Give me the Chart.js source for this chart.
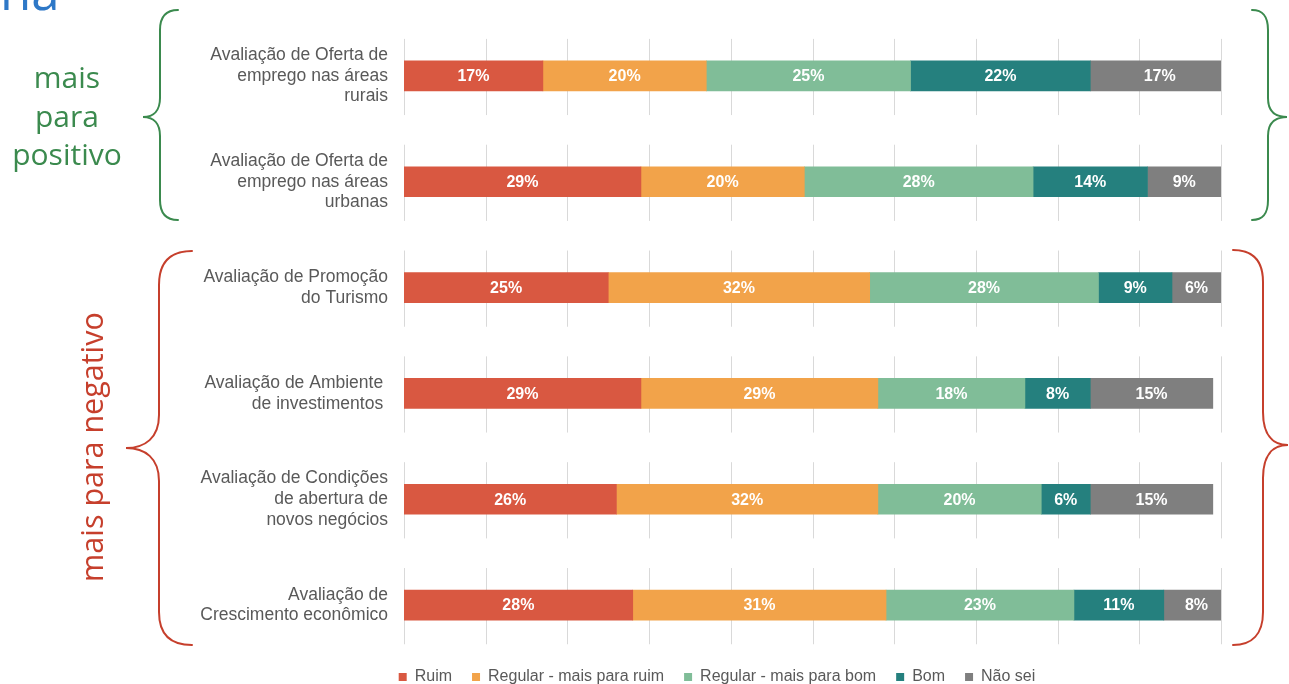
<!DOCTYPE html>
<html lang="pt-BR">
<head>
<meta charset="utf-8">
<title>Avaliação</title>
<script src="https://cdn.jsdelivr.net/npm/chart.js@4/dist/chart.umd.min.js"></script>
<style>
  html, body { margin: 0; padding: 0; background: #ffffff; }
  #wrap { position: relative; width: 1289px; height: 684px; overflow: hidden; background: #ffffff; }
  #chart { position: absolute; left: 0; top: 0; }
  #braces { position: absolute; left: 0; top: 0; pointer-events: none; }
  .side { position: absolute; font-family: "Open Sans", sans-serif; text-align: center; white-space: nowrap; }
  #heading { position: absolute; left: 0; top: -35px; font-family: "Open Sans", sans-serif; font-size: 51px; line-height: 50px; color: #2E78C7; }
  #pos { left: 0; top: 58px; width: 134px; font-size: 30px; line-height: 38.5px; color: #3B8A4E; }
  #neg { left: 91px; top: 447px; font-size: 30.5px; line-height: 32px; color: #C63F2C; transform: translate(-50%, -50%) rotate(-90deg); }
</style>
</head>
<body>
<div id="wrap">
  <canvas id="chart" width="1289" height="684"></canvas>
  <svg id="braces" width="1289" height="684" viewBox="0 0 1289 684">
    <g fill="none" stroke-width="2" stroke-linecap="round">
      <path stroke="#3B8A4E" d="M178,10 C166,10 160,16 160,30 L160,98 C160,110 154,117 143,117 C154,117 160,124 160,136 L160,200 C160,214 166,220 178,220"/>
      <path stroke="#3B8A4E" d="M1252,10 C1263,10 1268,16 1268,30 L1268,98 C1268,110 1274,117 1287,117 C1274,117 1268,124 1268,136 L1268,200 C1268,214 1263,220 1252,220"/>
      <path stroke="#C63F2C" d="M192,251 C170,251 159,262 159,285 L159,415 C159,438 145,448 126,448 C145,448 159,458 159,481 L159,612 C159,634 170,645 192,645"/>
      <path stroke="#C63F2C" d="M1233,250 C1252,250 1263,260 1263,282 L1263,412 C1263,434 1272,445 1288,445 C1272,445 1263,456 1263,478 L1263,612 C1263,634 1252,645 1233,645"/>
    </g>
  </svg>
  <div id="heading">na</div>
  <div id="pos" class="side">mais<br>para<br>positivo</div>
  <div id="neg" class="side">mais para negativo</div>
</div>
<script>
// Survey items (multi-line labels) and the share of answers per rating, in %
const categories = [
  ['Avaliação de Oferta de', 'emprego nas áreas', 'rurais'],
  ['Avaliação de Oferta de', 'emprego nas áreas', 'urbanas'],
  ['Avaliação de Promoção', 'do Turismo'],
  ['Avaliação de Ambiente ', 'de investimentos '],
  ['Avaliação de Condições', 'de abertura de', 'novos negócios'],
  ['Avaliação de', 'Crescimento econômico']
];
const seriesNames = ['Ruim', 'Regular - mais para ruim', 'Regular - mais para bom', 'Bom', 'Não sei'];
const ruim        = [17, 29, 25, 29, 26, 28];
const regularRuim = [20, 20, 32, 29, 32, 31];
const regularBom  = [25, 28, 28, 18, 20, 23];
const bom         = [22, 14,  9,  8,  6, 11];
const naoSei      = [17,  9,  6, 15, 15,  8];
const seriesColors = ['#D95841', '#F2A34A', '#80BD98', '#25807E', '#7F7F7F'];

const seriesValues = [ruim, regularRuim, regularBom, bom, naoSei];

// Short vertical grid segments around each bar instead of full-height lines
const segmentGrid = {
  id: 'segmentGrid',
  beforeDatasetsDraw(chart) {
    const { ctx, scales: { x, y } } = chart;
    const band = y.height / categories.length;
    ctx.save();
    ctx.strokeStyle = '#d9d9d9';
    ctx.lineWidth = 1;
    x.ticks.forEach(t => {
      const px = Math.round(x.getPixelForValue(t.value)) + 0.5;
      categories.forEach((_, i) => {
        const cy = y.getPixelForValue(i);
        ctx.beginPath();
        ctx.moveTo(px, cy - band * 0.35);
        ctx.lineTo(px, cy + band * 0.37);
        ctx.stroke();
      });
    });
    ctx.restore();
  }
};

// Percent label centred in each bar segment
const segmentLabels = {
  id: 'segmentLabels',
  afterDatasetsDraw(chart) {
    const { ctx } = chart;
    ctx.save();
    ctx.fillStyle = '#ffffff';
    ctx.font = 'bold 16px "Liberation Sans", Arial, sans-serif';
    ctx.textAlign = 'center';
    ctx.textBaseline = 'middle';
    chart.data.datasets.forEach((ds, di) => {
      const meta = chart.getDatasetMeta(di);
      meta.data.forEach((bar, i) => {
        const v = ds.data[i];
        if (!v) return;
        const cx = (bar.x + bar.base) / 2;
        ctx.fillText(v + '%', cx, bar.y + 1);
      });
    });
    ctx.restore();
  }
};

// Legend: reserve a slim strip under the bars, then centre the row under the whole figure
const legendPlacement = {
  id: 'legendPlacement',
  afterInit(chart) {
    const lg = chart.legend;
    if (!lg || lg._slim) return;
    const fit = lg.fit;
    lg.fit = function () { fit.call(this); this.height = 26; };
    lg._slim = true;
  },
  afterLayout(chart) {
    const lg = chart.legend;
    if (!lg) return;
    lg.top -= 9;
    lg.bottom = lg.top + 46;
    lg.left += 31.5; lg.right += 31.5;
  }
};

new Chart(document.getElementById('chart'), {
  type: 'bar',
  data: {
    labels: categories,
    datasets: seriesValues.map((vals, i) => ({
      label: seriesNames[i],
      data: vals,
      backgroundColor: seriesColors[i],
      borderWidth: 0,
      barThickness: 30,
      clip: 0
    }))
  },
  options: {
    indexAxis: 'y',
    responsive: false,
    animation: false,
    events: [],
    layout: { padding: { left: 150, right: 68, top: 23, bottom: 0 } },
    scales: {
      x: {
        stacked: true,
        min: 0,
        max: 100,
        display: false,
        ticks: { stepSize: 10 }
      },
      y: {
        stacked: true,
        grid: { display: false, drawTicks: false },
        border: { display: false },
        ticks: {
          color: '#595959',
          padding: 16,
          font: { family: '"Liberation Sans", Arial, sans-serif', size: 17.5, lineHeight: 1.18 }
        },
        afterFit(scale) {
          scale.width = 254;
          scale.paddingTop = 0;
          scale.paddingBottom = 0;
        }
      }
    },
    plugins: {
      legend: {
        position: 'bottom',
        labels: {
          boxWidth: 8,
          boxHeight: 8,
          padding: 20,
          color: '#595959',
          font: { family: '"Liberation Sans", Arial, sans-serif', size: 16 }
        }
      },
      tooltip: { enabled: false }
    }
  },
  plugins: [segmentGrid, segmentLabels, legendPlacement]
});
</script>
</body>
</html>
